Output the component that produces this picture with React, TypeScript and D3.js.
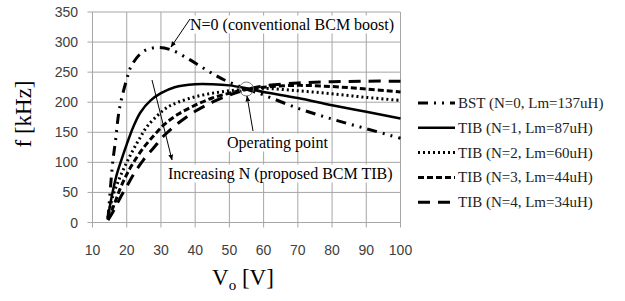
import { useRef, useEffect } from "react";
import * as d3 from "d3";

// tick values
const xTicks = [10, 20, 30, 40, 50, 60, 70, 80, 90, 100];
const yTicks = [0, 50, 100, 150, 200, 250, 300, 350];

// [Vo (V), f (kHz)]
const bst = [
  [14.5, 5], [15, 40], [15.5, 75], [16, 105], [16.7, 135], [17.9, 190], [20, 238],
  [21.5, 262], [25, 285], [29, 291], [33, 287], [38, 272], [42, 258], [46.5, 243],
  [50, 233], [55, 222], [60, 212], [70, 190], [80, 172], [90, 156], [100, 140],
];
const tib1 = [
  [14.5, 8], [15.5, 40], [17, 78], [18.5, 105], [20, 130], [22, 160], [24, 183],
  [27, 203], [30, 215], [34, 225], [40, 230], [45, 230], [50, 228], [55, 223],
  [60, 217], [70, 207], [80, 195], [90, 184], [100, 173],
];
const tib2 = [
  [14.5, 8], [16, 45], [18, 75], [20, 100], [22, 122], [24, 142], [26, 160],
  [29, 178], [32, 192], [35, 200], [40, 209], [45, 215], [50, 219], [55, 222],
  [60, 223], [70, 219], [80, 214], [90, 208], [100, 203],
];
const tib3 = [
  [14.5, 6], [16, 25], [18, 55], [20, 80], [22, 100], [25, 125], [28, 145],
  [31, 163], [35, 180], [40, 195], [45, 207], [50, 215], [55, 221], [60, 225],
  [70, 228], [80, 226], [90, 222], [100, 217],
];
const tib4 = [
  [14.5, 4], [16, 18], [18, 40], [20, 60], [22, 80], [25, 105], [28, 125],
  [31, 145], [35, 165], [40, 185], [45, 200], [50, 212], [55, 221], [60, 227],
  [70, 232], [80, 234], [90, 235], [100, 235],
];

const seriesLabels = [
  "BST (N=0, Lm=137uH)",
  "TIB (N=1, Lm=87uH)",
  "TIB (N=2, Lm=60uH)",
  "TIB (N=3, Lm=44uH)",
  "TIB (N=4, Lm=34uH)",
];
const seriesData = [bst, tib1, tib2, tib3, tib4];
const dashes = ["10,6,2,6,2,6", null, "2,3", "6,3", "12,8"];
const widths = [3, 2.5, 3, 3, 3];

const operatingPoint = [55, 222];

const App = () => {
  const svgRef = useRef(null);
  const width = 625;
  const height = 301;

  useEffect(() => {
    const svg = d3.select(svgRef.current);
    svg.selectAll("*").remove();

    const x = d3.scaleLinear().domain([10, 100]).range([92.5, 400.5]);
    const y = d3.scaleLinear().domain([0, 350]).range([222.5, 12]);
    const grid = "#a6a6a6";
    const tickFont = "Liberation Sans, Arial, sans-serif";
    const serif = "Liberation Serif, Times New Roman, serif";

    // grid
    svg.append("g").selectAll("line")
      .data(xTicks)
      .enter().append("line")
      .attr("x1", d => x(d)).attr("x2", d => x(d))
      .attr("y1", y(350)).attr("y2", y(0) + 5)
      .attr("stroke", grid).attr("stroke-width", 1);
    svg.append("g").selectAll("line")
      .data(yTicks)
      .enter().append("line")
      .attr("x1", x(10) - 5).attr("x2", x(100))
      .attr("y1", d => y(d)).attr("y2", d => y(d))
      .attr("stroke", grid).attr("stroke-width", 1);

    // tick labels
    svg.append("g").selectAll("text")
      .data(yTicks)
      .enter().append("text")
      .attr("x", 78).attr("y", d => y(d))
      .attr("text-anchor", "end").attr("dominant-baseline", "central")
      .attr("font-family", tickFont).attr("font-size", 14).attr("fill", "#404040")
      .text(d => d);
    svg.append("g").selectAll("text")
      .data(xTicks)
      .enter().append("text")
      .attr("x", d => x(d)).attr("y", 250)
      .attr("text-anchor", "middle").attr("dominant-baseline", "central")
      .attr("font-family", tickFont).attr("font-size", 14).attr("fill", "#404040")
      .text(d => d);

    // axis titles
    svg.append("text")
      .attr("transform", "translate(31,114) rotate(-90)")
      .attr("text-anchor", "middle")
      .attr("font-family", serif).attr("font-size", 23)
      .text("f [kHz]");
    const xt = svg.append("text")
      .attr("x", 212).attr("y", 285)
      .attr("font-family", serif).attr("font-size", 23);
    xt.append("tspan").text("V");
    xt.append("tspan").attr("font-size", 15).attr("dy", 5).text("o");
    xt.append("tspan").attr("dy", -5).text(" [V]");

    // curves
    const line = d3.line()
      .x(d => x(d[0]))
      .y(d => y(d[1]))
      .curve(d3.curveCatmullRom.alpha(0.5));
    seriesData.forEach((s, i) => {
      svg.append("path")
        .datum(s)
        .attr("d", line)
        .attr("fill", "none")
        .attr("stroke", "#000")
        .attr("stroke-width", widths[i])
        .attr("stroke-dasharray", dashes[i]);
    });

    // operating point circle
    svg.append("circle")
      .attr("cx", x(operatingPoint[0])).attr("cy", y(operatingPoint[1]))
      .attr("r", 7)
      .attr("fill", "none").attr("stroke", "#777").attr("stroke-width", 1);

    // arrow head
    svg.append("defs").append("marker")
      .attr("id", "arr")
      .attr("viewBox", "0 0 10 10")
      .attr("refX", 9).attr("refY", 5)
      .attr("markerWidth", 6).attr("markerHeight", 6)
      .attr("orient", "auto")
      .append("path").attr("d", "M0,1 L10,5 L0,9 z").attr("fill", "#000");

    // annotations with white boxes
    const note = (tx, ty, label) => {
      const g = svg.append("g");
      const t = g.append("text")
        .attr("x", tx).attr("y", ty)
        .attr("dominant-baseline", "central")
        .attr("font-family", serif).attr("font-size", 16)
        .text(label);
      const b = t.node().getBBox();
      g.insert("rect", "text")
        .attr("x", b.x - 1).attr("y", b.y)
        .attr("width", b.width + 2).attr("height", b.height)
        .attr("fill", "#fff");
    };
    note(190, 24, "N=0 (conventional BCM boost)");
    note(227, 142, "Operating point");
    note(168, 173, "Increasing N (proposed BCM TIB)");

    const arrow = (x1, y1, x2, y2) => {
      svg.append("line")
        .attr("x1", x1).attr("y1", y1).attr("x2", x2).attr("y2", y2)
        .attr("stroke", "#000").attr("stroke-width", 1)
        .attr("marker-end", "url(#arr)");
    };
    arrow(190, 19, 171, 47);
    arrow(253, 131, 247, 96);
    arrow(152, 80, 172, 160);

    // legend
    const lg = svg.append("g");
    seriesLabels.forEach((lab, i) => {
      const ly = 103 + i * 24.8;
      lg.append("line")
        .attr("x1", 418).attr("x2", 455)
        .attr("y1", ly).attr("y2", ly)
        .attr("stroke", "#000")
        .attr("stroke-width", widths[i])
        .attr("stroke-dasharray", dashes[i]);
      lg.append("text")
        .attr("x", 458).attr("y", ly)
        .attr("dominant-baseline", "central")
        .attr("font-family", serif).attr("font-size", 15).attr("fill", "#222")
        .text(lab);
    });
  }, []);

  return (
    <svg ref={svgRef} width={width} height={height}
      style={{ position: "absolute", left: 0, top: 0, background: "#fff" }}></svg>
  );
};

export default App;
